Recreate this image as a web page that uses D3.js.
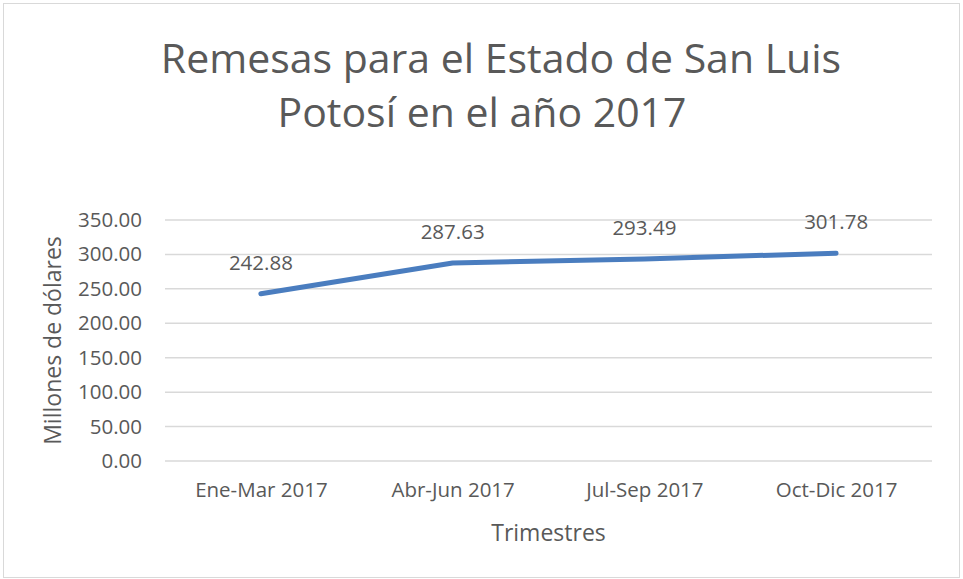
<!DOCTYPE html>
<html>
<head>
<meta charset="utf-8">
<script src="https://cdn.jsdelivr.net/npm/d3@7"></script>
<style>
  body { margin: 0; background: #fff; }
  text { font-family: "Open Sans", sans-serif; fill: #595959; }
</style>
</head>
<body>
<div id="chart"></div>
<script>
// data
var trimestres = ["Ene-Mar 2017", "Abr-Jun 2017", "Jul-Sep 2017", "Oct-Dic 2017"];
var remesas = [242.88, 287.63, 293.49, 301.78];
var yTicks = [0, 50, 100, 150, 200, 250, 300, 350];

var svgWidth = 963;
var svgHeight = 579;

var margin = {
    top: 220,
    right: 31,
    left: 165,
    bottom: 118
};

var chartWidth = svgWidth - margin.left - margin.right;
var chartHeight = svgHeight - margin.top - margin.bottom;

var svg = d3.select("#chart")
    .append("svg")
    .attr("width", svgWidth)
    .attr("height", svgHeight);

// outer border of the chart box
svg.append("rect")
    .attr("x", 3.5)
    .attr("y", 3.5)
    .attr("width", 956)
    .attr("height", 574)
    .attr("fill", "none")
    .attr("stroke", "#d9d9d9");

// Title
var title = svg.append("text")
    .attr("text-anchor", "middle")
    .attr("font-size", "41px");
title.append("tspan").attr("x", 501).attr("y", 73).text("Remesas para el Estado de San Luis");
title.append("tspan").attr("x", 482).attr("y", 127).text("Potosí en el año 2017");

var chartGroup = svg.append("g")
    .attr("transform", `translate(${margin.left},${margin.top})`);

var xScale = d3.scalePoint()
    .domain(trimestres)
    .range([0, chartWidth])
    .padding(0.5);

var yScale = d3.scaleLinear()
    .domain([0, 350])
    .range([chartHeight, 0]);

// gridlines
chartGroup.selectAll(".grid")
    .data(yTicks)
    .enter()
    .append("line")
    .attr("class", "grid")
    .attr("x1", 0)
    .attr("x2", chartWidth)
    .attr("y1", d => yScale(d))
    .attr("y2", d => yScale(d))
    .attr("stroke", "#d9d9d9")
    .attr("stroke-width", 1.5);

var leftAxis = d3.axisLeft(yScale)
    .tickValues(yTicks)
    .tickFormat(d3.format(".2f"))
    .tickSize(0)
    .tickPadding(23);

var yAxis = chartGroup.append("g")
    .call(leftAxis);
yAxis.select(".domain").remove();
yAxis.selectAll("text")
    .attr("font-size", "20.5px")
    .attr("font-family", "Open Sans")
    .attr("fill", "#595959");

var bottomAxis = d3.axisBottom(xScale)
    .tickSize(0)
    .tickPadding(21);

var xAxis = chartGroup.append("g")
    .attr("transform", `translate(0, ${chartHeight})`)
    .call(bottomAxis);
xAxis.select(".domain").remove();
xAxis.selectAll("text")
    .attr("font-size", "20.5px")
    .attr("font-family", "Open Sans")
    .attr("fill", "#595959");

// the line
var line = d3.line()
    .x((d, i) => xScale(trimestres[i]))
    .y(d => yScale(d));

chartGroup.append("path")
    .datum(remesas)
    .attr("d", line)
    .attr("fill", "none")
    .attr("stroke", "#4a7dbf")
    .attr("stroke-width", 5)
    .attr("stroke-linecap", "round")
    .attr("stroke-linejoin", "round");

// data labels
chartGroup.selectAll(".label")
    .data(remesas)
    .enter()
    .append("text")
    .attr("class", "label")
    .attr("text-anchor", "middle")
    .attr("x", (d, i) => xScale(trimestres[i]))
    .attr("y", d => yScale(d) - 24)
    .attr("font-size", "20.5px")
    .text(d => d3.format(".2f")(d));

// axis titles
chartGroup.append("text")
    .attr("transform", "rotate(-90)")
    .attr("x", 0 - chartHeight / 2)
    .attr("y", 0 - margin.left + 61)
    .attr("text-anchor", "middle")
    .attr("font-size", "23px")
    .text("Millones de dólares");

chartGroup.append("text")
    .attr("x", chartWidth / 2)
    .attr("y", chartHeight + 80)
    .attr("text-anchor", "middle")
    .attr("font-size", "23px")
    .text("Trimestres");
</script>
</body>
</html>
